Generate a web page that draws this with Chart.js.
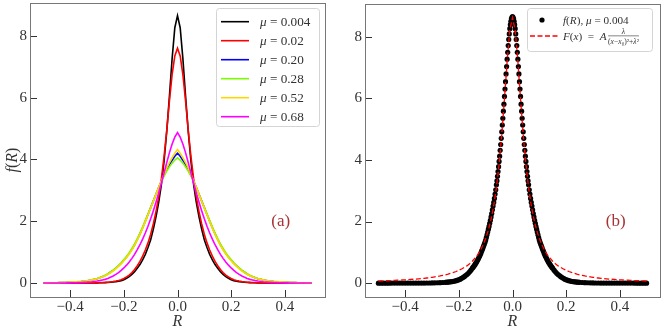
<!DOCTYPE html>
<html>
<head>
<meta charset="utf-8">
<script src="https://cdn.jsdelivr.net/npm/chart.js@4.4.1/dist/chart.umd.min.js"></script>
<style>
  html, body { margin: 0; padding: 0; background: #fff; }
  #wrap { display: flex; width: 664px; height: 332px; }
  canvas { display: block; width: 332px; height: 332px; }
</style>
</head>
<body>
<div id="wrap">
  <canvas id="left" width="332" height="332"></canvas>
  <canvas id="right" width="332" height="332"></canvas>
</div>
<script>
// ---------- data ----------
const X_TICKS = [-0.4, -0.2, 0, 0.2, 0.4];
const Y_TICKS = [0, 2, 4, 6, 8];

// R grid of the curves in panel (a) and of the fitted line in panel (b)
const R_GRID = [
  -0.5, -0.49, -0.48, -0.47, -0.46, -0.45, -0.44, -0.43, -0.42, -0.41,
  -0.4, -0.39, -0.38, -0.37, -0.36, -0.35, -0.34, -0.33, -0.32, -0.31,
  -0.3, -0.29, -0.28, -0.27, -0.26, -0.25, -0.24, -0.23, -0.22, -0.21,
  -0.2, -0.19, -0.18, -0.17, -0.16, -0.15, -0.14, -0.13, -0.12, -0.11,
  -0.1, -0.09, -0.08, -0.07, -0.06, -0.05, -0.04, -0.03, -0.02, -0.01,
  0,
  0.01, 0.02, 0.03, 0.04, 0.05, 0.06, 0.07, 0.08, 0.09, 0.1,
  0.11, 0.12, 0.13, 0.14, 0.15, 0.16, 0.17, 0.18, 0.19, 0.2,
  0.21, 0.22, 0.23, 0.24, 0.25, 0.26, 0.27, 0.28, 0.29, 0.3,
  0.31, 0.32, 0.33, 0.34, 0.35, 0.36, 0.37, 0.38, 0.39, 0.4,
  0.41, 0.42, 0.43, 0.44, 0.45, 0.46, 0.47, 0.48, 0.49, 0.5
];

const MU_LABELS = ['0.004', '0.02', '0.20', '0.28', '0.52', '0.68'];
const MU_COLORS = ['#000000', '#ff0000', '#0000ff', '#7cfc00', '#ffd700', '#ff00ff'];

const F_MU004 = [
  0, 0, 0, 0, 0, 0.001, 0.001, 0.001, 0.001, 0.001,
  0.001, 0.001, 0.001, 0.002, 0.002, 0.002, 0.003, 0.003, 0.004, 0.005,
  0.007, 0.009, 0.012, 0.016, 0.021, 0.027, 0.035, 0.045, 0.06, 0.08,
  0.11, 0.155, 0.21, 0.28, 0.37, 0.48, 0.60, 0.75, 0.93, 1.15,
  1.40, 1.75, 2.15, 2.62, 3.19, 3.95, 4.91, 6.06, 7.27, 8.26,
  8.65,
  8.26, 7.27, 6.06, 4.91, 3.95, 3.19, 2.62, 2.15, 1.75, 1.40,
  1.15, 0.93, 0.75, 0.60, 0.48, 0.37, 0.28, 0.21, 0.155, 0.11,
  0.08, 0.06, 0.045, 0.035, 0.027, 0.021, 0.016, 0.012, 0.009, 0.007,
  0.005, 0.004, 0.003, 0.003, 0.002, 0.002, 0.002, 0.001, 0.001, 0.001,
  0.001, 0.001, 0.001, 0.001, 0.001, 0, 0, 0, 0, 0
];
const F_MU002 = [
  0, 0, 0, 0, 0, 0.001, 0.001, 0.001, 0.001, 0.001,
  0.001, 0.002, 0.002, 0.002, 0.003, 0.003, 0.004, 0.005, 0.006, 0.008,
  0.010, 0.013, 0.017, 0.022, 0.029, 0.038, 0.05, 0.065, 0.085, 0.11,
  0.15, 0.20, 0.26, 0.34, 0.44, 0.56, 0.70, 0.87, 1.07, 1.30,
  1.58, 1.92, 2.32, 2.80, 3.38, 4.10, 4.95, 5.90, 6.75, 7.35,
  7.60,
  7.35, 6.75, 5.90, 4.95, 4.10, 3.38, 2.80, 2.32, 1.92, 1.58,
  1.30, 1.07, 0.87, 0.70, 0.56, 0.44, 0.34, 0.26, 0.20, 0.15,
  0.11, 0.085, 0.065, 0.05, 0.038, 0.029, 0.022, 0.017, 0.013, 0.010,
  0.008, 0.006, 0.005, 0.004, 0.003, 0.003, 0.002, 0.002, 0.002, 0.001,
  0.001, 0.001, 0.001, 0.001, 0.001, 0, 0, 0, 0, 0
];
const F_MU020 = [
  0.006, 0.007, 0.008, 0.009, 0.010, 0.012, 0.014, 0.016, 0.019, 0.022,
  0.026, 0.031, 0.037, 0.043, 0.05, 0.06, 0.07, 0.085, 0.10, 0.12,
  0.14, 0.17, 0.205, 0.245, 0.29, 0.35, 0.41, 0.48, 0.56, 0.64,
  0.74, 0.84, 0.96, 1.09, 1.24, 1.41, 1.59, 1.79, 2.00, 2.22,
  2.44, 2.66, 2.88, 3.10, 3.31, 3.50, 3.67, 3.83, 3.97, 4.10,
  4.20,
  4.10, 3.97, 3.83, 3.67, 3.50, 3.31, 3.10, 2.88, 2.66, 2.44,
  2.22, 2.00, 1.79, 1.59, 1.41, 1.24, 1.09, 0.96, 0.84, 0.74,
  0.64, 0.56, 0.48, 0.41, 0.35, 0.29, 0.245, 0.205, 0.17, 0.14,
  0.12, 0.10, 0.085, 0.07, 0.06, 0.05, 0.043, 0.037, 0.031, 0.026,
  0.022, 0.019, 0.016, 0.014, 0.012, 0.010, 0.009, 0.008, 0.007, 0.006
];
const F_MU028 = [
  0.007, 0.008, 0.009, 0.01, 0.011, 0.013, 0.015, 0.018, 0.021, 0.025,
  0.03, 0.035, 0.041, 0.048, 0.056, 0.066, 0.078, 0.09, 0.11, 0.13,
  0.15, 0.18, 0.215, 0.255, 0.30, 0.36, 0.42, 0.49, 0.57, 0.66,
  0.76, 0.86, 0.98, 1.12, 1.27, 1.44, 1.62, 1.82, 2.03, 2.24,
  2.45, 2.66, 2.87, 3.08, 3.28, 3.46, 3.62, 3.76, 3.88, 3.98,
  4.05,
  3.98, 3.88, 3.76, 3.62, 3.46, 3.28, 3.08, 2.87, 2.66, 2.45,
  2.24, 2.03, 1.82, 1.62, 1.44, 1.27, 1.12, 0.98, 0.86, 0.76,
  0.66, 0.57, 0.49, 0.42, 0.36, 0.30, 0.255, 0.215, 0.18, 0.15,
  0.13, 0.11, 0.09, 0.078, 0.066, 0.056, 0.048, 0.041, 0.035, 0.03,
  0.025, 0.021, 0.018, 0.015, 0.013, 0.011, 0.01, 0.009, 0.008, 0.007
];
const F_MU052 = [
  0.006, 0.007, 0.008, 0.009, 0.01, 0.012, 0.014, 0.017, 0.02, 0.023,
  0.027, 0.032, 0.037, 0.043, 0.05, 0.06, 0.07, 0.085, 0.10, 0.12,
  0.14, 0.165, 0.195, 0.235, 0.28, 0.33, 0.39, 0.46, 0.54, 0.62,
  0.72, 0.82, 0.94, 1.07, 1.22, 1.39, 1.57, 1.77, 1.98, 2.20,
  2.42, 2.65, 2.88, 3.10, 3.32, 3.53, 3.72, 3.90, 4.06, 4.20,
  4.32,
  4.20, 4.06, 3.90, 3.72, 3.53, 3.32, 3.10, 2.88, 2.65, 2.42,
  2.20, 1.98, 1.77, 1.57, 1.39, 1.22, 1.07, 0.94, 0.82, 0.72,
  0.62, 0.54, 0.46, 0.39, 0.33, 0.28, 0.235, 0.195, 0.165, 0.14,
  0.12, 0.10, 0.085, 0.07, 0.06, 0.05, 0.043, 0.037, 0.032, 0.027,
  0.023, 0.02, 0.017, 0.014, 0.012, 0.01, 0.009, 0.008, 0.007, 0.006
];
const F_MU068 = [
  0.001, 0.001, 0.002, 0.002, 0.002, 0.003, 0.003, 0.004, 0.005, 0.006,
  0.007, 0.009, 0.011, 0.014, 0.018, 0.022, 0.027, 0.034, 0.042, 0.052,
  0.065, 0.08, 0.10, 0.12, 0.15, 0.19, 0.23, 0.28, 0.34, 0.41,
  0.49, 0.58, 0.68, 0.80, 0.93, 1.08, 1.24, 1.42, 1.62, 1.84,
  2.08, 2.34, 2.62, 2.92, 3.24, 3.57, 3.90, 4.22, 4.50, 4.72,
  4.87,
  4.72, 4.50, 4.22, 3.90, 3.57, 3.24, 2.92, 2.62, 2.34, 2.08,
  1.84, 1.62, 1.42, 1.24, 1.08, 0.93, 0.80, 0.68, 0.58, 0.49,
  0.41, 0.34, 0.28, 0.23, 0.19, 0.15, 0.12, 0.10, 0.08, 0.065,
  0.052, 0.042, 0.034, 0.027, 0.022, 0.018, 0.014, 0.011, 0.009, 0.007,
  0.006, 0.005, 0.004, 0.003, 0.003, 0.002, 0.002, 0.002, 0.001, 0.001
];
const F_CURVES = [F_MU004, F_MU002, F_MU020, F_MU028, F_MU052, F_MU068];

// panel (b): measured points for mu = 0.004 (denser near the peak)
const DOT_R = [
  -0.5, -0.49, -0.48, -0.47, -0.46, -0.45, -0.44, -0.43, -0.42, -0.41,
  -0.4, -0.39, -0.38, -0.37, -0.36, -0.35, -0.34, -0.33, -0.32, -0.31,
  -0.3, -0.29, -0.28, -0.27, -0.26,
  -0.25, -0.245, -0.24, -0.235, -0.23, -0.225, -0.22, -0.215, -0.21, -0.205,
  -0.2, -0.195, -0.19, -0.185, -0.18, -0.175, -0.17, -0.165, -0.16, -0.155,
  -0.15, -0.1475, -0.145, -0.1425, -0.14, -0.1375, -0.135, -0.1325, -0.13, -0.1275,
  -0.125, -0.1225, -0.12, -0.1175, -0.115, -0.1125, -0.11, -0.1075, -0.105, -0.1025,
  -0.1, -0.0975, -0.095, -0.0925, -0.09, -0.0875, -0.085, -0.0825, -0.08, -0.0775,
  -0.075, -0.0725, -0.07, -0.0675, -0.065, -0.0625,
  -0.06, -0.058, -0.056, -0.054, -0.052, -0.05, -0.048, -0.046, -0.044, -0.042,
  -0.04, -0.038, -0.036, -0.034, -0.032, -0.03, -0.028, -0.026, -0.024, -0.022,
  -0.02, -0.018, -0.016, -0.014, -0.012, -0.01, -0.008, -0.006, -0.004, -0.002,
  0,
  0.002, 0.004, 0.006, 0.008, 0.01, 0.012, 0.014, 0.016, 0.018, 0.02,
  0.022, 0.024, 0.026, 0.028, 0.03, 0.032, 0.034, 0.036, 0.038, 0.04,
  0.042, 0.044, 0.046, 0.048, 0.05, 0.052, 0.054, 0.056, 0.058, 0.06,
  0.0625, 0.065, 0.0675, 0.07, 0.0725, 0.075, 0.0775, 0.08, 0.0825, 0.085,
  0.0875, 0.09, 0.0925, 0.095, 0.0975, 0.1, 0.1025, 0.105, 0.1075, 0.11,
  0.1125, 0.115, 0.1175, 0.12, 0.1225, 0.125, 0.1275, 0.13, 0.1325, 0.135,
  0.1375, 0.14, 0.1425, 0.145, 0.1475, 0.15,
  0.155, 0.16, 0.165, 0.17, 0.175, 0.18, 0.185, 0.19, 0.195, 0.2,
  0.205, 0.21, 0.215, 0.22, 0.225, 0.23, 0.235, 0.24, 0.245, 0.25,
  0.26, 0.27, 0.28, 0.29, 0.3, 0.31, 0.32, 0.33, 0.34, 0.35,
  0.36, 0.37, 0.38, 0.39, 0.4, 0.41, 0.42, 0.43, 0.44, 0.45,
  0.46, 0.47, 0.48, 0.49, 0.5
];
const DOT_F = [
  0, 0, 0, 0, 0, 0.001, 0.001, 0.001, 0.001, 0.001,
  0.001, 0.001, 0.001, 0.002, 0.002, 0.002, 0.003, 0.003, 0.004, 0.005,
  0.007, 0.009, 0.012, 0.016, 0.021,
  0.027, 0.031, 0.035, 0.04, 0.045, 0.052, 0.06, 0.07, 0.08, 0.095,
  0.11, 0.13, 0.155, 0.18, 0.21, 0.245, 0.28, 0.32, 0.37, 0.42,
  0.48, 0.51, 0.54, 0.57, 0.60, 0.64, 0.67, 0.71, 0.75, 0.79,
  0.84, 0.88, 0.93, 0.98, 1.04, 1.09, 1.15, 1.21, 1.27, 1.33,
  1.40, 1.48, 1.57, 1.66, 1.75, 1.84, 1.94, 2.04, 2.15, 2.26,
  2.38, 2.50, 2.62, 2.75, 2.89, 3.03,
  3.19, 3.32, 3.47, 3.62, 3.78, 3.95, 4.12, 4.31, 4.50, 4.70,
  4.91, 5.13, 5.35, 5.58, 5.81, 6.06, 6.30, 6.54, 6.79, 7.03,
  7.27, 7.49, 7.71, 7.91, 8.09, 8.26, 8.39, 8.50, 8.58, 8.63,
  8.65,
  8.63, 8.58, 8.50, 8.39, 8.26, 8.09, 7.91, 7.71, 7.49, 7.27,
  7.03, 6.79, 6.54, 6.30, 6.06, 5.81, 5.58, 5.35, 5.13, 4.91,
  4.70, 4.50, 4.31, 4.12, 3.95, 3.78, 3.62, 3.47, 3.32, 3.19,
  3.03, 2.89, 2.75, 2.62, 2.50, 2.38, 2.26, 2.15, 2.04, 1.94,
  1.84, 1.75, 1.66, 1.57, 1.48, 1.40, 1.33, 1.27, 1.21, 1.15,
  1.09, 1.04, 0.98, 0.93, 0.88, 0.84, 0.79, 0.75, 0.71, 0.67,
  0.64, 0.60, 0.57, 0.54, 0.51, 0.48,
  0.42, 0.37, 0.32, 0.28, 0.245, 0.21, 0.18, 0.155, 0.13, 0.11,
  0.095, 0.08, 0.07, 0.06, 0.052, 0.045, 0.04, 0.035, 0.031, 0.027,
  0.021, 0.016, 0.012, 0.009, 0.007, 0.005, 0.004, 0.003, 0.003, 0.002,
  0.002, 0.002, 0.001, 0.001, 0.001, 0.001, 0.001, 0.001, 0.001, 0.001,
  0, 0, 0, 0, 0
];

// panel (b): Lorentzian fit F(x) on R_GRID
const F_FIT = [
  0.069, 0.072, 0.075, 0.078, 0.082, 0.085, 0.089, 0.093, 0.098, 0.103,
  0.108, 0.113, 0.119, 0.126, 0.133, 0.140, 0.148, 0.157, 0.167, 0.178,
  0.190, 0.203, 0.217, 0.233, 0.251, 0.271, 0.293, 0.318, 0.346, 0.378,
  0.415, 0.46, 0.51, 0.56, 0.63, 0.71, 0.81, 0.92, 1.06, 1.24,
  1.45, 1.72, 2.07, 2.52, 3.10, 3.86, 4.82, 5.97, 7.20, 8.21,
  8.62,
  8.21, 7.20, 5.97, 4.82, 3.86, 3.10, 2.52, 2.07, 1.72, 1.45,
  1.24, 1.06, 0.92, 0.81, 0.71, 0.63, 0.56, 0.51, 0.46, 0.415,
  0.378, 0.346, 0.318, 0.293, 0.271, 0.251, 0.233, 0.217, 0.203, 0.190,
  0.178, 0.167, 0.157, 0.148, 0.140, 0.133, 0.126, 0.119, 0.113, 0.108,
  0.103, 0.098, 0.093, 0.089, 0.085, 0.082, 0.078, 0.075, 0.072, 0.069
];

const TAG_POS = [0.385, 2.0];   // where "(a)" / "(b)" sit, data coords

// ---------- styling ----------
const SERIF = '"Liberation Serif", "DejaVu Serif", serif';
const INK = '#333';
const FRAME = '#777';
const TAG_COLOR = '#a83232';

const pts = (xs, ys) => xs.map((x, i) => ({ x, y: ys[i] }));
const fmtR = (v) => v === 0 ? '0.0' : (v < 0 ? '\u2212' : '') + Math.abs(v).toFixed(1);

function drawRuns(ctx, runs, x, y, size) {
  runs.forEach(([t, it]) => {
    ctx.font = `${it ? 'italic ' : ''}${size}px ${SERIF}`;
    ctx.fillText(t, x, y);
    x += ctx.measureText(t).width;
  });
  return x;
}
function runsWidth(ctx, runs, size) {
  let w = 0;
  runs.forEach(([t, it]) => {
    ctx.font = `${it ? 'italic ' : ''}${size}px ${SERIF}`;
    w += ctx.measureText(t).width;
  });
  return w;
}
function legendBox(ctx, x, y, w, h) {
  ctx.beginPath();
  ctx.roundRect(x, y, w, h, 3);
  ctx.fillStyle = 'rgba(255,255,255,0.85)';
  ctx.fill();
  ctx.strokeStyle = '#d4d4d4';
  ctx.lineWidth = 1;
  ctx.stroke();
}

function drawLegendA(ctx) {
  legendBox(ctx, 216.5, 8.5, 103, 118);
  ctx.textAlign = 'left';
  ctx.textBaseline = 'alphabetic';
  MU_LABELS.forEach((mu, i) => {
    const yy = 21.7 + 19 * i;
    ctx.strokeStyle = MU_COLORS[i];
    ctx.lineWidth = 1.6;
    ctx.beginPath(); ctx.moveTo(221, yy); ctx.lineTo(249, yy); ctx.stroke();
    ctx.fillStyle = INK;
    drawRuns(ctx, [['\u03bc', true], [' = ' + mu, false]], 260, yy + 4.4, 13.2);
  });
}

function drawLegendB(ctx) {
  legendBox(ctx, 195.5, 8.5, 125, 43);
  ctx.textAlign = 'left';
  ctx.textBaseline = 'alphabetic';
  ctx.fillStyle = '#000';
  ctx.beginPath(); ctx.arc(210, 20, 2.6, 0, Math.PI * 2); ctx.fill();
  ctx.fillStyle = INK;
  drawRuns(ctx, [['f', true], ['(', false], ['R', true], ['), ', false], ['\u03bc', true], [' = 0.004', false]], 231, 23.8, 11.2);

  ctx.strokeStyle = '#ff0000';
  ctx.lineWidth = 1.3;
  ctx.setLineDash([5, 2.5]);
  ctx.beginPath(); ctx.moveTo(198, 36); ctx.lineTo(226, 36); ctx.stroke();
  ctx.setLineDash([]);

  ctx.fillStyle = INK;
  const end = drawRuns(ctx, [['F', true], ['(', false], ['x', true], [')  =  ', false], ['A', true]], 231, 39.8, 11.2);
  const fs = 7.6;
  const den = [['(', false], ['x', true], ['\u2212', false], ['x', true], ['\u2080', false], [')\u00b2+', false], ['\u03bb', true], ['\u00b2', false]];
  const dw = runsWidth(ctx, den, fs);
  const fx = end + 1.5;
  drawRuns(ctx, den, fx, 43.5, fs);
  ctx.font = `italic ${fs}px ${SERIF}`;
  const lw = ctx.measureText('\u03bb').width;
  ctx.fillText('\u03bb', fx + dw / 2 - lw / 2, 34);
  ctx.fillRect(fx, 35.6, dw, 0.6);
}

// rotated y label, drawn here so it sits where matplotlib put it
function drawYTitle(ctx) {
  ctx.save();
  ctx.translate(13, 160);
  ctx.rotate(-Math.PI / 2);
  ctx.fillStyle = INK;
  ctx.textAlign = 'left';
  ctx.textBaseline = 'middle';
  const runs = [['f', true], ['(', false], ['R', true], [')', false]];
  const w = runsWidth(ctx, runs, 16);
  drawRuns(ctx, runs, -w / 2, 0, 16);
  ctx.restore();
}

// frame, inward ticks, panel tag and legend
function makeDeco(tag, drawLegend, yTitle) {
  return {
    id: 'deco' + tag,
    afterDatasetsDraw(chart) {
      const { ctx, chartArea: a, scales: { x, y } } = chart;
      ctx.save();
      ctx.strokeStyle = INK;
      ctx.lineWidth = 1;
      ctx.beginPath();
      X_TICKS.forEach(v => {
        const px = Math.round(x.getPixelForValue(v)) + 0.5;
        ctx.moveTo(px, a.bottom); ctx.lineTo(px, a.bottom - 7);
      });
      Y_TICKS.forEach(v => {
        const py = Math.round(y.getPixelForValue(v)) + 0.5;
        ctx.moveTo(a.left, py); ctx.lineTo(a.left + 7, py);
      });
      ctx.stroke();
      ctx.strokeStyle = FRAME;
      ctx.strokeRect(Math.round(a.left) + 0.5, Math.round(a.top) + 0.5, Math.round(a.width), Math.round(a.height));

      ctx.fillStyle = TAG_COLOR;
      ctx.font = `17px ${SERIF}`;
      ctx.textAlign = 'center';
      ctx.textBaseline = 'middle';
      ctx.fillText(tag, x.getPixelForValue(TAG_POS[0]), y.getPixelForValue(TAG_POS[1]));
      drawLegend(ctx);
      if (yTitle) drawYTitle(ctx);
      ctx.restore();
    }
  };
}

function scales(yWidth) {
  const tickFont = { family: SERIF, size: 15 };
  return {
    x: {
      type: 'linear', min: -0.55, max: 0.55,
      afterBuildTicks: s => { s.ticks = X_TICKS.map(v => ({ value: v })); },
      afterFit: s => { s.height = 35; s.paddingLeft = 0; s.paddingRight = 0; },
      grid: { display: false, drawTicks: false },
      border: { display: false },
      ticks: { padding: 1, color: INK, font: tickFont, maxRotation: 0, autoSkip: false, callback: fmtR },
      title: { display: true, text: 'R', color: INK, font: { family: SERIF, size: 16, style: 'italic' }, padding: { top: 0, bottom: 1 } }
    },
    y: {
      type: 'linear', min: -0.45, max: 9.06,
      afterBuildTicks: s => { s.ticks = Y_TICKS.map(v => ({ value: v })); },
      afterFit: s => { s.width = yWidth; s.paddingTop = 0; s.paddingBottom = 0; },
      grid: { display: false, drawTicks: false },
      border: { display: false },
      ticks: { padding: 3, color: INK, font: tickFont, autoSkip: false, callback: v => String(v) }
    }
  };
}

// panel (a)
new Chart(document.getElementById('left'), {
  type: 'line',
  data: {
    datasets: F_CURVES.map((f, i) => ({
      label: '\u03bc = ' + MU_LABELS[i],
      data: pts(R_GRID, f),
      borderColor: MU_COLORS[i],
      borderWidth: 1.6,
      pointRadius: 0,
      tension: 0,
      order: F_CURVES.length - i
    }))
  },
  options: {
    responsive: false, animation: false,
    layout: { padding: { left: 0, right: 7, top: 3, bottom: 0 } },
    plugins: { legend: { display: false }, tooltip: { enabled: false } },
    scales: scales(30)
  },
  plugins: [makeDeco('(a)', drawLegendA, true)]
});

// panel (b)
new Chart(document.getElementById('right'), {
  type: 'line',
  data: {
    datasets: [
      {
        label: 'F(x)',
        data: pts(R_GRID, F_FIT),
        borderColor: '#ff0000',
        borderWidth: 1.3,
        borderDash: [5, 2.5],
        pointRadius: 0,
        tension: 0,
        order: 0
      },
      {
        label: 'f(R), \u03bc = 0.004',
        data: pts(DOT_R, DOT_F),
        showLine: false,
        pointRadius: 2.6,
        pointBorderWidth: 0,
        pointBackgroundColor: '#000',
        pointBorderColor: '#000',
        order: 1
      }
    ]
  },
  options: {
    responsive: false, animation: false,
    layout: { padding: { left: 0, right: 4, top: 3, bottom: 0 } },
    plugins: { legend: { display: false }, tooltip: { enabled: false } },
    scales: scales(33)
  },
  plugins: [makeDeco('(b)', drawLegendB, false)]
});
</script>
</body>
</html>
